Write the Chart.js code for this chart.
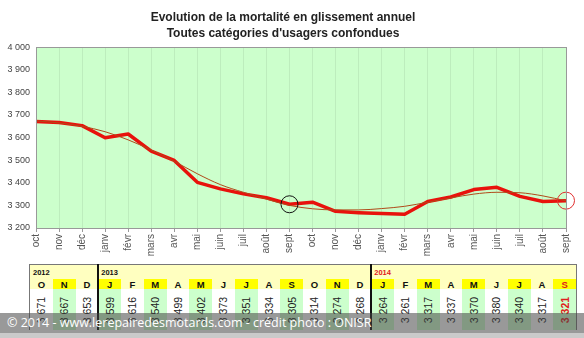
<!DOCTYPE html>
<html><head><meta charset="utf-8">
<script src="https://cdn.jsdelivr.net/npm/chart.js@4.4.1/dist/chart.umd.min.js"></script>
<style>
html,body{margin:0;padding:0;background:#fff;width:584px;height:338px;overflow:hidden;font-family:"Liberation Sans",Arial,sans-serif;}
#wrap{position:relative;width:584px;height:338px;}
#c{position:absolute;left:0;top:0;width:584px;height:262px;}
#tbl{position:absolute;left:29px;top:264px;width:548px;height:66px;border:1px solid #777;box-sizing:border-box;background:#ffffc0;}
.cell{position:absolute;box-sizing:border-box;}
.yr{position:absolute;font-size:7.5px;font-weight:bold;color:#111;}
.let{position:absolute;font-size:9.5px;font-weight:bold;color:#111;text-align:center;line-height:9px;}
.val{position:absolute;font-size:10.5px;color:#222;white-space:nowrap;transform:rotate(-90deg);transform-origin:center center;text-align:center;}
.sep{position:absolute;top:-1px;width:2px;height:66px;background:#111;}
#band{position:absolute;left:0;top:313px;width:584px;height:20px;background:rgba(70,70,70,0.55);}
#strip{position:absolute;left:0;top:333px;width:584px;height:5px;background:rgba(150,150,150,0.5);}
#wm{position:absolute;left:7px;top:314px;font-size:12.5px;color:#fff;white-space:nowrap;font-family:"Open Sans","Liberation Sans",sans-serif;line-height:18px;}
</style></head>
<body><div id="wrap"><canvas id="c" width="584" height="262"></canvas><div id="tbl"></div><div id="band"></div><div id="strip"></div><div id="wm">© 2014 - www.lerepairedesmotards.com - crédit photo : ONISR</div></div>
<script>
const months = ['oct','nov','déc','janv','févr','mars','avr','mai','juin','juil','août','sept','oct','nov','déc','janv','févr','mars','avr','mai','juin','juil','août','sept'];
const values = [3671,3667,3653,3599,3616,3540,3499,3402,3373,3351,3334,3305,3314,3274,3268,3264,3261,3317,3337,3370,3380,3340,3317,3321];
const trend = [3674,3665,3650,3626,3590,3545,3495,3440,3392,3358,3328,3300,3285,3280,3280,3286,3296,3314,3333,3350,3358,3356,3342,3320];
const highlightIdx = [11,23];
const yearLabels = ['2012','2013','2014'];
const yearSpans = [3,12,9];
const letters = ['O','N','D','J','F','M','A','M','J','J','A','S','O','N','D','J','F','M','A','M','J','J','A','S'];
const titleLines = ['Evolution de la mortalité en glissement annuel','Toutes catégories d\'usagers confondues'];
const yMin = 3200, yMax = 4000, yStep = 100;

function fmt(v){ return String(v).replace(/\B(?=(\d{3})+(?!\d))/g,' '); }

const circleData = values.map((v,i)=> highlightIdx.includes(i) ? v : null);

const bgPlugin = {
  id:'bg',
  beforeDraw(chart){
    const {ctx, chartArea:a} = chart;
    ctx.save(); ctx.fillStyle='#ccffcc'; ctx.fillRect(a.left,a.top,a.right-a.left,a.bottom-a.top); ctx.restore();
  },
  afterDraw(chart){
    const {ctx, chartArea:a} = chart;
    ctx.save(); ctx.strokeStyle='#999'; ctx.lineWidth=1; ctx.strokeRect(Math.round(a.left)+0.5,Math.round(a.top)+0.5,Math.round(a.right-a.left),Math.round(a.bottom-a.top)); ctx.restore();
  }
};

new Chart(document.getElementById('c'),{
  type:'line',
  data:{labels:months,datasets:[
    {data:circleData,showLine:false,pointRadius:8.5,pointHoverRadius:8.5,pointBorderWidth:1,
     pointBackgroundColor:'rgba(0,0,0,0)',
     pointBorderColor:(c)=> c.dataIndex===highlightIdx[1] ? '#e03030' : '#111',order:0},
    {data:trend,borderColor:'#b04a1a',borderWidth:1,pointRadius:0,tension:0.4,cubicInterpolationMode:'monotone',order:1},
    {data:values,borderColor:'#e8120c',borderWidth:3.5,pointRadius:0,tension:0,order:2,borderJoinStyle:'round'}
  ]},
  options:{
    responsive:false,animation:false,
    layout:{padding:{left:0,right:18,top:0,bottom:0}},
    plugins:{legend:{display:false},tooltip:{enabled:false},
      title:{display:true,text:titleLines,color:'#222',font:{family:'"Liberation Sans",Arial,sans-serif',size:12,weight:'bold',lineHeight:1.3},padding:{top:10,bottom:6}}},
    scales:{
      x:{offset:false,
        grid:{color:'rgba(0,0,0,0.07)',tickLength:4,tickColor:'#999',drawTicks:true},
        border:{display:false},
        ticks:{autoSkip:false,minRotation:90,maxRotation:90,color:'#555',padding:2,font:{family:'"Liberation Sans",Arial,sans-serif',size:10}},
        afterFit(s){ s.height=34; }
      },
      y:{min:yMin,max:yMax,
        grid:{display:false,drawTicks:false},border:{display:false},
        ticks:{stepSize:yStep,color:'#444',padding:6,font:{family:'"Liberation Sans",Arial,sans-serif',size:9},callback:(v)=>fmt(v)},
        afterFit(s){ s.width=36; }
      }
    }
  },
  plugins:[bgPlugin]
});

// table
const tbl = document.getElementById('tbl');
const colW = 546/24;
// highlighted (yellow letter / green value) columns alternate, starting with the 2nd
const hi = letters.map((l,i)=> i%2===1);
let html='';
letters.forEach((l,i)=>{
  const x = i*colW;
  if(hi[i]){
    html += `<div class="cell" style="left:${x}px;top:14px;width:${colW}px;height:10px;background:#ffff00"></div>`;
    html += `<div class="cell" style="left:${x}px;top:24px;width:${colW}px;height:41px;background:#ccffcc"></div>`;
  } else {
    html += `<div class="cell" style="left:${x}px;top:24px;width:${colW}px;height:41px;background:#ffffff"></div>`;
  }
  const last = i===letters.length-1;
  html += `<div class="let" style="left:${x}px;top:15px;width:${colW}px;${last?'color:#e02020':''}">${l}</div>`;
  html += `<div class="val" style="left:${x+colW/2-20}px;top:${45-6}px;width:40px;height:12px;line-height:12px;${last?'color:#e02020;font-weight:bold':''}">${fmt(values[i])}</div>`;
});
let acc=0;
yearLabels.forEach((y,k)=>{
  const x = acc*colW;
  html += `<div class="yr" style="left:${x+3}px;top:3px;${k===2?'color:#e02020':''}">${y}</div>`;
  if(k>0) html += `<div class="sep" style="left:${x-1}px"></div>`;
  acc += yearSpans[k];
});
tbl.innerHTML = html;
</script>
</body></html>
